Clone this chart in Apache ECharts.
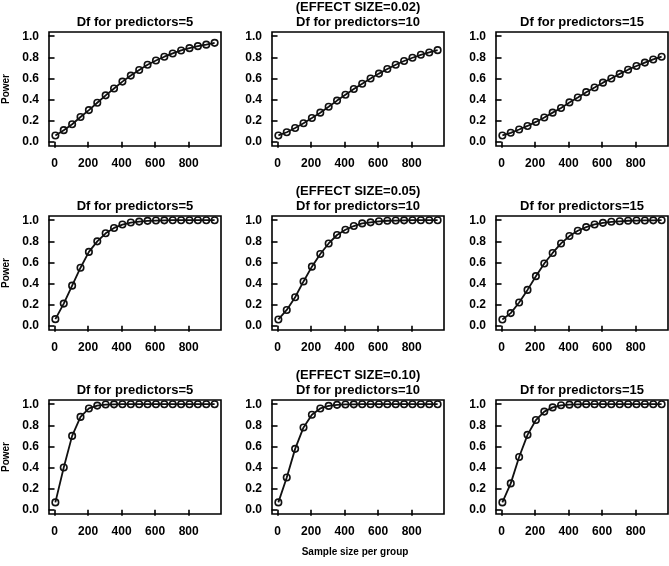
<!DOCTYPE html>
<html>
<head>
<meta charset="utf-8">
<script src="https://cdn.jsdelivr.net/npm/echarts@6/dist/echarts.min.js"></script>
<style>
  html, body { margin: 0; padding: 0; background: #fff; }
  #main { width: 669px; height: 566px; }
</style>
</head>
<body>
<div id="main"></div>
<script>
// sample size per group (x of every point)
var sampleSizes = [5, 55, 105, 155, 205, 255, 305, 355, 405, 455, 505, 555, 605, 655, 705, 755, 805, 855, 905, 955];
var xTicks = [0, 200, 400, 600, 800];
var yTicks = [0, 0.2, 0.4, 0.6, 0.8, 1.0];

var effectTitles = ['(EFFECT SIZE=0.02)', '(EFFECT SIZE=0.05)', '(EFFECT SIZE=0.10)'];
var dfTitles = ['Df for predictors=5', 'Df for predictors=10', 'Df for predictors=15'];

// power, one array per panel
var es02df5  = [0.06, 0.11, 0.166, 0.235, 0.30, 0.37, 0.44, 0.505, 0.57, 0.627, 0.68, 0.73, 0.77, 0.806, 0.837, 0.865, 0.887, 0.906, 0.92, 0.937];
var es02df10 = [0.06, 0.09, 0.13, 0.175, 0.225, 0.276, 0.332, 0.39, 0.445, 0.50, 0.55, 0.60, 0.646, 0.69, 0.73, 0.765, 0.796, 0.824, 0.846, 0.868];
var es02df15 = [0.06, 0.085, 0.116, 0.15, 0.188, 0.23, 0.276, 0.32, 0.373, 0.42, 0.47, 0.514, 0.56, 0.60, 0.643, 0.683, 0.718, 0.75, 0.78, 0.806];
var es05df5  = [0.063, 0.21, 0.38, 0.55, 0.70, 0.80, 0.876, 0.927, 0.959, 0.978, 0.987, 0.994, 0.997, 0.999, 1, 1, 1, 1, 1, 1];
var es05df10 = [0.06, 0.15, 0.27, 0.42, 0.56, 0.68, 0.78, 0.86, 0.91, 0.945, 0.97, 0.98, 0.99, 0.995, 0.997, 0.999, 1, 1, 1, 1];
var es05df15 = [0.06, 0.12, 0.22, 0.34, 0.47, 0.59, 0.69, 0.78, 0.85, 0.90, 0.935, 0.96, 0.975, 0.985, 0.99, 0.995, 0.997, 0.998, 0.999, 1];
var es10df5  = [0.07, 0.40, 0.70, 0.88, 0.96, 0.987, 0.997, 0.999, 1, 1, 1, 1, 1, 1, 1, 1, 1, 1, 1, 1];
var es10df10 = [0.07, 0.306, 0.577, 0.78, 0.90, 0.96, 0.984, 0.994, 0.998, 0.999, 1, 1, 1, 1, 1, 1, 1, 1, 1, 1];
var es10df15 = [0.07, 0.25, 0.50, 0.71, 0.85, 0.93, 0.97, 0.99, 0.996, 0.999, 1, 1, 1, 1, 1, 1, 1, 1, 1, 1];

var panels = [
  [es02df5, es02df10, es02df15],
  [es05df5, es05df10, es05df15],
  [es10df5, es10df10, es10df15]
];

var colLeft = [49, 272, 496];
var rowTop = [32, 216, 400];
var gw = 172, gh = 114;
var font = 'Liberation Sans, Arial, sans-serif';

var grids = [], xAxes = [], yAxes = [], series = [], graphics = [];

panels.forEach(function (row, r) {
  row.forEach(function (vals, c) {
    var i = grids.length;
    grids.push({
      left: colLeft[c], top: rowTop[r], width: gw, height: gh,
      show: true, borderColor: '#000', borderWidth: 1.6, backgroundColor: 'transparent'
    });
    xAxes.push({
      type: 'value', gridIndex: i, min: -33, max: 993,
      axisLine: { show: false },
      splitLine: { show: false },
      axisTick: { show: true, length: 6, customValues: xTicks, lineStyle: { color: '#000', width: 1.6 } },
      axisLabel: { customValues: xTicks, margin: 12, color: '#000', fontSize: 12, fontWeight: 'bold', fontFamily: font }
    });
    yAxes.push({
      type: 'value', gridIndex: i, min: -0.04, max: 1.04,
      axisLine: { show: false },
      splitLine: { show: false },
      axisTick: { show: true, length: 6, customValues: yTicks, lineStyle: { color: '#000', width: 1.6 } },
      axisLabel: {
        customValues: yTicks, margin: 10, color: '#000', fontSize: 12, fontWeight: 'bold', fontFamily: font,
        formatter: function (v) { return v.toFixed(1); }
      }
    });
    series.push({
      type: 'line', xAxisIndex: i, yAxisIndex: i,
      data: sampleSizes.map(function (x, k) { return [x, vals[k]]; }),
      symbol: 'circle', symbolSize: 6.5,
      itemStyle: { color: 'rgba(255,255,255,0)', borderColor: '#111', borderWidth: 1.6 },
      lineStyle: { color: '#111', width: 1.8 },
      silent: true, animation: false
    });
    var cx = colLeft[c] + gw / 2;
    graphics.push({
      type: 'text', x: cx, y: rowTop[r] - 10,
      style: { text: dfTitles[c], textAlign: 'center', textVerticalAlign: 'middle',
               font: 'bold 13px ' + font, fill: '#000' }
    });
    if (c === 1) {
      graphics.push({
        type: 'text', x: cx, y: rowTop[r] - 25,
        style: { text: effectTitles[r], textAlign: 'center', textVerticalAlign: 'middle',
                 font: 'bold 13px ' + font, fill: '#000' }
      });
    }
    if (c === 0) {
      graphics.push({
        type: 'text', x: 6, y: rowTop[r] + gh / 2, rotation: Math.PI / 2,
        style: { text: 'Power', textAlign: 'center', textVerticalAlign: 'middle',
                 font: 'bold 10px ' + font, fill: '#000' }
      });
    }
  });
});

graphics.push({
  type: 'text', x: 355, y: 552,
  style: { text: 'Sample size per group', textAlign: 'center', textVerticalAlign: 'middle',
           font: 'bold 10px ' + font, fill: '#000' }
});

var chart = echarts.init(document.getElementById('main'));
chart.setOption({
  animation: false,
  backgroundColor: '#fff',
  grid: grids,
  xAxis: xAxes,
  yAxis: yAxes,
  series: series,
  graphic: graphics
});
</script>
</body>
</html>
